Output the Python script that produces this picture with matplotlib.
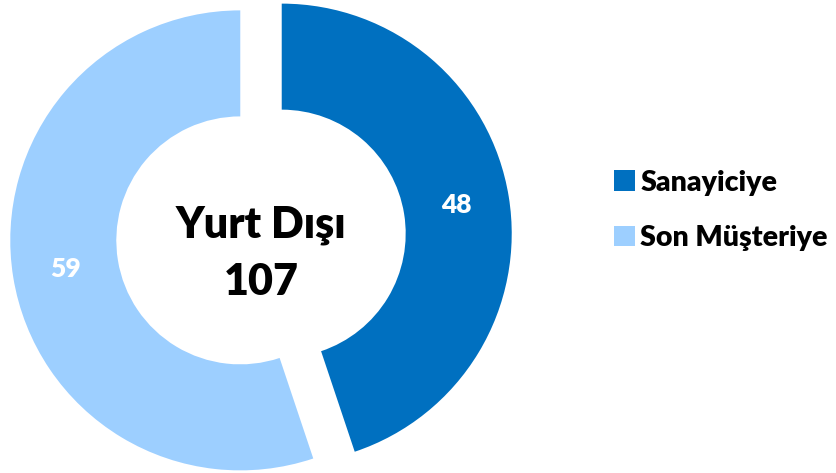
import matplotlib
matplotlib.use("Agg")
import matplotlib.pyplot as plt

categories = ["Sanayiciye", "Son Müşteriye"]
values = [48, 59]
colors = ["#0070C0", "#9DCFFF"]
center_title = "Yurt Dışı"
total = sum(values)

plt.rcParams["font.family"] = ["Lato", "DejaVu Sans"]

W, H = 836, 473
cx, cy = 261, 237      # pie centre in pixels (from top-left)
scale = 230.0          # pixels per radius unit

fig = plt.figure(figsize=(W / 100, H / 100), dpi=100)
ax = fig.add_axes([0, 0, 1, 1])

wedges, texts, autotexts = ax.pie(
    values,
    colors=colors,
    startangle=90,
    counterclock=False,
    explode=[0.0913, 0.0913],
    radius=1.0,
    wedgeprops=dict(width=0.461, edgecolor="none"),
    autopct=lambda p: f"{round(p * total / 100):.0f}",
    pctdistance=0.77,
    textprops=dict(color="white", fontsize=19, fontweight="heavy"),
)

ax.set_xlim(-cx / scale, (W - cx) / scale)
ax.set_ylim(-(H - cy) / scale, cy / scale)
ax.set_aspect("auto")

ax.text(0, 0, center_title, ha="center", va="baseline",
        fontsize=31, fontweight="heavy", color="black")
ax.text(0, -58 / scale, str(total), ha="center", va="baseline",
        fontsize=31, fontweight="heavy", color="black")

leg = ax.legend(
    wedges, categories,
    loc="upper left",
    bbox_to_anchor=(588 / W, 1 - 144 / H),
    bbox_transform=fig.transFigure,
    frameon=False,
    prop=dict(size=20.5, weight="heavy"),
    handlelength=0.74, handleheight=0.74,
    handletextpad=0.2,
    labelspacing=1.03,
)

fig.savefig("out.png", dpi=100)
